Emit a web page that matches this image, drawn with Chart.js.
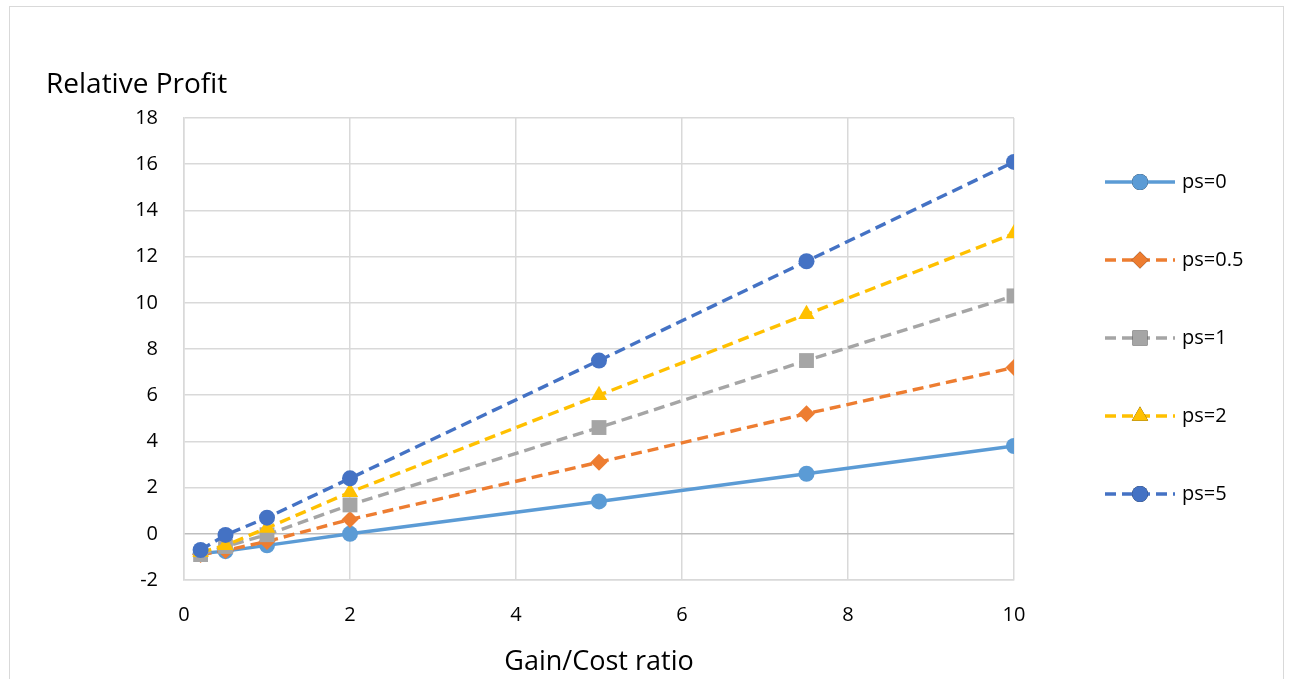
<!DOCTYPE html>
<html>
<head>
<meta charset="utf-8">
<script src="https://cdn.jsdelivr.net/npm/chart.js@4.4.0/dist/chart.umd.min.js"></script>
<style>
  html, body { margin: 0; padding: 0; background: #fff; }
  #wrap { position: relative; width: 1292px; height: 679px; overflow: hidden; }
  #frame { position: absolute; left: 9px; top: 6px; width: 1275px; height: 700px; border: 1px solid #d9d9d9; box-sizing: border-box; }
  canvas { position: absolute; left: 0; top: 0; }
</style>
</head>
<body>
<div id="wrap">
  <div id="frame"></div>
  <canvas id="profitChart" width="1292" height="679"></canvas>
</div>
<script>
// 横轴: Gain/Cost ratio
const gainCost = [0.2, 0.5, 1, 2, 5, 7.5, 10];

// 各 ps 的相对收益
const ps0   = [-0.85, -0.75, -0.5, 0.0, 1.4, 2.6, 3.8];
const ps05  = [-0.9, -0.72, -0.33, 0.62, 3.1, 5.2, 7.2];
const ps1   = [-0.9, -0.55, -0.04, 1.25, 4.6, 7.5, 10.3];
const ps2   = [-0.8, -0.5, 0.25, 1.8, 6.0, 9.5, 13.0];
const ps5   = [-0.7, -0.05, 0.7, 2.4, 7.5, 11.8, 16.1];

const seriesNames = ['ps=0', 'ps=0.5', 'ps=1', 'ps=2', 'ps=5'];
const yTicks = [-2, 0, 2, 4, 6, 8, 10, 12, 14, 16, 18];
const xTicks = [0, 2, 4, 6, 8, 10];

const FONT = "'Open Sans', 'Noto Sans', sans-serif";

function toPoints(vals) {
    return gainCost.map((x, i) => ({ x: x, y: vals[i] }));
}

function makeSet(label, vals, color, style, dashed, order) {
    let r = 8;
    if (style === 'rect') r = 10.5;
    if (style === 'rectRot') r = 8.5;
    if (style === 'triangle') r = 9.5;
    return {
        label: label,
        data: toPoints(vals),
        borderColor: color,
        backgroundColor: color,
        borderWidth: 3.4,
        borderDash: dashed ? [11, 6] : [],
        pointStyle: style,
        pointRadius: r,
        pointBorderWidth: 0,
        pointBackgroundColor: color,
        fill: false,
        tension: 0,
        order: order
    };
}

// 右侧图例（线 + 标记）
const legendPlugin = {
    id: 'sideLegend',
    afterDraw(chart) {
        const ctx = chart.ctx;
        const sets = chart.data.datasets;
        const x0 = 1105, x1 = 1175, mx = 1140, ys = [182, 260, 338, 416, 494];
        sets.forEach((ds, i) => {
            const y = ys[i];
            ctx.save();
            ctx.strokeStyle = ds.borderColor;
            ctx.lineWidth = 3.4;
            ctx.setLineDash(ds.borderDash);
            ctx.beginPath();
            ctx.moveTo(x0, y);
            ctx.lineTo(x1, y);
            ctx.stroke();
            ctx.setLineDash([]);
            Chart.helpers.drawPoint(ctx, {
                pointStyle: ds.pointStyle,
                radius: ds.pointRadius,
                borderWidth: 0,
                rotation: 0
            }, mx, y);
            ctx.fillStyle = ds.backgroundColor;
            ctx.fill();
            ctx.fillStyle = '#000';
            ctx.font = '20px ' + FONT;
            ctx.textBaseline = 'middle';
            ctx.textAlign = 'left';
            ctx.fillText(ds.label, 1182, y);
            ctx.restore();
        });
        // 纵轴标题
        ctx.save();
        ctx.fillStyle = '#000';
        ctx.font = '28px ' + FONT;
        ctx.textBaseline = 'middle';
        ctx.textAlign = 'left';
        ctx.fillText('Relative Profit', 46, 85);
        ctx.restore();
    }
};

const ctx = document.getElementById('profitChart').getContext('2d');
new Chart(ctx, {
    type: 'line',
    data: {
        datasets: [
            makeSet(seriesNames[0], ps0, '#5B9BD5', 'circle', false, 5),
            makeSet(seriesNames[1], ps05, '#ED7D31', 'rectRot', true, 4),
            makeSet(seriesNames[2], ps1, '#A5A5A5', 'rect', true, 3),
            makeSet(seriesNames[3], ps2, '#FFC000', 'triangle', true, 2),
            makeSet(seriesNames[4], ps5, '#4472C4', 'circle', true, 1)
        ]
    },
    options: {
        responsive: false,
        animation: false,
        layout: { padding: { left: 0, right: 278, top: 118, bottom: 0 } },
        plugins: {
            legend: { display: false },
            tooltip: { enabled: false },
            title: { display: false }
        },
        scales: {
            x: {
                type: 'linear',
                min: 0,
                max: 10,
                afterBuildTicks(scale) { scale.ticks = xTicks.map(v => ({ value: v })); },
                afterFit(scale) { scale.height = 99; },
                ticks: { color: '#000', font: { family: FONT, size: 20 }, padding: 23 },
                grid: { color: '#d9d9d9', lineWidth: 1.5, drawTicks: false },
                border: { color: '#d9d9d9', width: 1.5 },
                title: {
                    display: true,
                    text: 'Gain/Cost ratio',
                    color: '#000',
                    font: { family: FONT, size: 27 },
                    padding: { top: 2, bottom: 0 }
                }
            },
            y: {
                min: -2,
                max: 18,
                afterBuildTicks(scale) { scale.ticks = yTicks.map(v => ({ value: v })); },
                afterFit(scale) { scale.width = 184; },
                ticks: { color: '#000', font: { family: FONT, size: 20 }, padding: 26 },
                grid: {
                    color: c => (c.tick && c.tick.value === 0) ? '#bfbfbf' : '#d9d9d9',
                    lineWidth: 1.5,
                    drawTicks: false
                },
                border: { color: '#d9d9d9', width: 1.5 }
            }
        }
    },
    plugins: [legendPlugin]
});
</script>
</body>
</html>
